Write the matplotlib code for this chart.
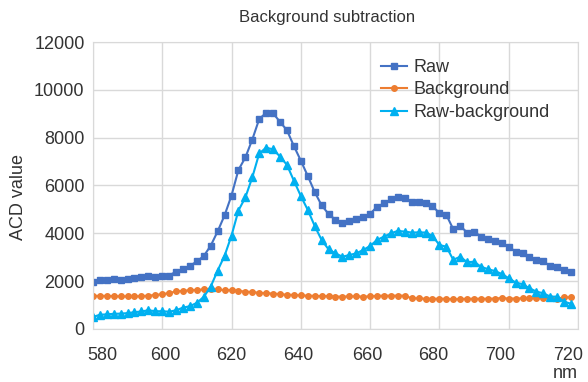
import numpy as np
import matplotlib
matplotlib.use("Agg")
import matplotlib.pyplot as plt
from matplotlib.transforms import ScaledTranslation

plt.rcParams['font.family'] = ['Liberation Sans', 'DejaVu Sans']

# wavelengths (nm), every 2 nm
wavelength = list(range(580, 720, 2))

raw = [1980, 2040, 2050, 2070, 2050, 2080, 2120, 2160, 2230, 2180,
       2210, 2230, 2400, 2500, 2640, 2820, 3050, 3480, 4080, 4750,
       5580, 6650, 7170, 7920, 8780, 9040, 9020, 8660, 8310, 7650,
       7040, 6400, 5730, 5170, 4810, 4560, 4450, 4520, 4590, 4660,
       4810, 5110, 5250, 5420, 5530, 5460, 5300, 5320, 5250, 5140,
       4840, 4770, 4170, 4310, 4030, 4070, 3860, 3750, 3690, 3580,
       3440, 3230, 3190, 3020, 2890, 2820, 2630, 2610, 2470, 2400]

background = [1380, 1380, 1380, 1370, 1360, 1360, 1360, 1370, 1390, 1420,
              1450, 1500, 1570, 1590, 1620, 1630, 1650, 1670, 1650, 1620,
              1620, 1590, 1560, 1540, 1510, 1490, 1480, 1450, 1430, 1420,
              1400, 1390, 1380, 1370, 1370, 1350, 1350, 1360, 1360, 1350,
              1360, 1380, 1390, 1390, 1390, 1390, 1280, 1280, 1260, 1260,
              1260, 1260, 1240, 1250, 1260, 1260, 1260, 1260, 1270, 1290,
              1270, 1270, 1280, 1280, 1280, 1280, 1280, 1270, 1320, 1320]

raw_minus_bg = [500, 590, 610, 630, 640, 660, 700, 730, 780, 740,
                740, 720, 780, 890, 950, 1090, 1340, 1770, 2440, 3060,
                3900, 4950, 5500, 6340, 7340, 7580, 7510, 7210, 6860, 6200,
                5560, 4980, 4310, 3720, 3330, 3160, 3020, 3090, 3160, 3300,
                3470, 3720, 3860, 4000, 4100, 4070, 4030, 4040, 4030, 3890,
                3510, 3440, 2890, 3020, 2790, 2810, 2600, 2500, 2420, 2300,
                2120, 1940, 1870, 1700, 1560, 1490, 1350, 1350, 1140, 1050]

x_ticks = list(range(580, 721, 20))
y_ticks = list(range(0, 12001, 2000))

fig = plt.figure(figsize=(5.88, 3.82), dpi=100)
ax = fig.add_axes([0.158, 0.139, 0.825, 0.751])

ax.plot(wavelength, raw, color='#4472C4', marker='s', markersize=4.8, linewidth=1.5, label='Raw')
ax.plot(wavelength, background, color='#ED7D31', marker='o', markersize=4, linewidth=1.5, label='Background')
ax.plot(wavelength, raw_minus_bg, color='#00B0F0', marker='^', markersize=5.2, linewidth=1.5, label='Raw-background')

ax.set_xlim(580, 720)
ax.set_ylim(0, 12000)
ax.set_xticks(x_ticks)
ax.set_yticks(y_ticks)
ax.grid(True, color='#D9D9D9', linewidth=1)
ax.set_axisbelow(True)
for s in ax.spines.values():
    s.set_color('#D9D9D9')
ax.tick_params(length=0, labelsize=13, colors='#333333')
ax.tick_params(axis='x', pad=13)
ax.tick_params(axis='y', pad=6)

# x labels sit a little inward of their gridlines, as in the original
shifts = [9, 3, 0, -3, -3, -6, -9, -10]
for lbl, dx in zip(ax.get_xticklabels(), shifts):
    lbl.set_transform(lbl.get_transform() + ScaledTranslation(dx / 100, 0, fig.dpi_scale_trans))

fig.text(0.556, 0.953, 'Background subtraction', ha='center', va='center', fontsize=12, color='#333333')
fig.text(0.031, 0.485, 'ACD value', rotation=90, ha='center', va='center', fontsize=13, color='#333333')
fig.text(0.962, 0.022, 'nm', ha='center', va='center', fontsize=13, color='#333333')

ax.legend(loc='upper left', bbox_to_anchor=(0.58, 0.966), frameon=False, fontsize=13,
          handlelength=1.4, handletextpad=0.4, labelspacing=0.3, borderaxespad=0,
          labelcolor='#333333')

plt.savefig('out.png', dpi=100)
